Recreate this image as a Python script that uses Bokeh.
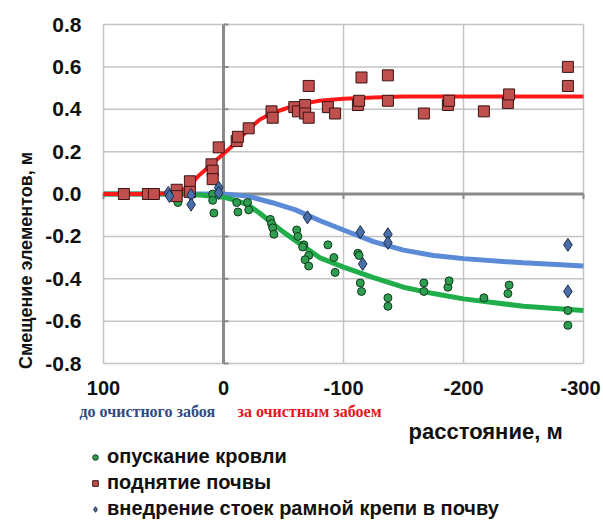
import math
from bokeh.plotting import figure
from bokeh.models import Range1d, Label, Legend, LegendItem
from bokeh.core.properties import value
from bokeh.embed import file_html
from bokeh.resources import INLINE

# ---------------- data ----------------
x_ticks = [100, 0, -100, -200, -300]
y_ticks = [-0.8, -0.6, -0.4, -0.2, 0.0, 0.2, 0.4, 0.6, 0.8]
x_tick_labels = ["100", "0", "-100", "-200", "-300"]
y_tick_labels = ["-0.8", "-0.6", "-0.4", "-0.2", "0.0", "0.2", "0.4", "0.6", "0.8"]

# поднятие почвы (red squares)
floor_x = [83, 63, 58, 39, 39, 28, 28, 10, 9, 9, 4, -11, -12, -21, -40, -41, -59, -62,
           -71, -68, -68, -71, -87, -93, -115, -112, -113, -137, -137, -167, -187, -188,
           -217, -237, -238, -287, -287]
floor_y = [0.00, 0.00, 0.00, 0.02, -0.01, 0.06, 0.01, 0.14, 0.11, 0.07, 0.22, 0.25, 0.27,
           0.31, 0.39, 0.36, 0.41, 0.39, 0.51, 0.42, 0.38, 0.36, 0.41, 0.38, 0.55, 0.42,
           0.44, 0.56, 0.44, 0.38, 0.42, 0.44, 0.39, 0.43, 0.47, 0.60, 0.51]

# опускание кровли (green circles)
roof_x = [38, 9, 9, 8, -11, -12, -20, -21, -39, -40, -41, -42, -61, -62, -67, -66, -71, -68,
          -71, -87, -92, -93, -112, -113, -114, -115, -137, -137, -167, -167, -187, -188,
          -217, -237, -238, -287, -287]
roof_y = [-0.04, -0.00, -0.03, -0.09, -0.04, -0.085, -0.04, -0.075, -0.12, -0.14, -0.16,
          -0.19, -0.17, -0.20, -0.24, -0.25, -0.29, -0.31, -0.34, -0.24, -0.30, -0.37,
          -0.28, -0.29, -0.42, -0.46, -0.49, -0.53, -0.42, -0.46, -0.44, -0.41, -0.49,
          -0.47, -0.43, -0.55, -0.62]

# внедрение стоек рамной крепи в почву (blue diamonds)
prop_x = [46, 45, 27, 27, 4, 4, -70, -114, -116, -137, -137, -287, -287]
prop_y = [0.005, -0.01, -0.005, -0.05, 0.03, 0.005, -0.11, -0.18, -0.33, -0.19, -0.23,
          -0.24, -0.46]

# trend curves
red_cx = [100, 60, 40, 30, 20, 10, 0, -10, -20, -30, -40, -50, -60, -70, -80, -100,
          -125, -150, -200, -300]
red_cy = [0.0, 0.0, 0.005, 0.03, 0.09, 0.14, 0.19, 0.24, 0.30, 0.35, 0.38, 0.40, 0.42,
          0.43, 0.44, 0.45, 0.455, 0.46, 0.46, 0.46]

green_cx = [100, 40, 20, 0, -10, -20, -30, -40, -50, -60, -70, -80, -100, -125, -150,
            -175, -200, -250, -300]
green_cy = [0.0, 0.0, -0.005, -0.015, -0.03, -0.05, -0.09, -0.135, -0.18, -0.22, -0.26,
            -0.30, -0.345, -0.395, -0.44, -0.47, -0.495, -0.53, -0.55]

blue_cx = [100, 0, -20, -40, -60, -80, -100, -125, -150, -175, -200, -250, -300]
blue_cy = [0.0, 0.0, -0.01, -0.04, -0.075, -0.125, -0.17, -0.225, -0.265, -0.29, -0.305,
           -0.325, -0.34]

legend_labels = ["опускание кровли", "поднятие почвы", "внедрение стоек рамной крепи в почву"]
y_title = "Смещение элементов, м"
x_title = "расстояние, м"
before_face = "до очистного забоя"
behind_face = "за очистным забоем"

# ---------------- layout (pixels inside the figure) ----------------
W, H = 603, 520
PL, PR, PT, PB = 103, 583, 24, 363         # plot area edges in figure pixels
X0, X1 = x_ticks[0], x_ticks[-1]
Y0, Y1 = y_ticks[0], y_ticks[-1]
sx = (PR - PL) / (X0 - X1)                 # px per unit (x reversed)
sy = (PB - PT) / (Y1 - Y0)
x_label_shift = [0, 0, 0, 0, -3]           # keep the last tick label inside the canvas


def px2x(px):
    return X0 - (px - PL) / sx


def py2y(py):
    return Y1 - (py - PT) / sy


FONT = "Liberation Sans"
SERIF = "Liberation Serif"

p = figure(width=W, height=H, output_backend="svg", toolbar_location=None,
           x_range=Range1d(px2x(0), px2x(W)), y_range=Range1d(py2y(H), py2y(0)),
           x_axis_type=None, y_axis_type=None, min_border=0)
p.grid.visible = False
p.outline_line_color = None
p.background_fill_color = "white"
p.border_fill_color = "white"

GRID = "#c4c4c4"
AXIS = "#8a8a8a"

# grid (also forms the frame border)
p.segment(x0=x_ticks, y0=[Y0] * len(x_ticks), x1=x_ticks, y1=[Y1] * len(x_ticks),
          line_color=GRID, line_width=1.5)
p.segment(x0=[X0] * len(y_ticks), y0=y_ticks, x1=[X1] * len(y_ticks), y1=y_ticks,
          line_color=GRID, line_width=1.5)

# zero axes with their tick marks
p.segment(x0=[X0], y0=[0], x1=[X1], y1=[0], line_color=AXIS, line_width=3)
p.segment(x0=[0], y0=[Y0], x1=[0], y1=[Y1], line_color=AXIS, line_width=3)
p.ray(x=x_ticks, y=[0] * len(x_ticks), length=5, length_units="screen",
      angle=-math.pi / 2, line_color=AXIS, line_width=2)
p.ray(x=[0] * len(y_ticks), y=y_ticks, length=5, length_units="screen",
      angle=0, line_color=AXIS, line_width=2)

# tick labels
p.text(x=x_ticks, y=[Y0] * len(x_ticks), text=x_tick_labels, y_offset=17,
       x_offset=x_label_shift,
       text_align="center", text_baseline="top", text_font=value(FONT),
       text_font_style="bold", text_font_size="20px", text_color="#111111")
p.text(x=[X0] * len(y_ticks), y=y_ticks, text=y_tick_labels, x_offset=-22,
       text_align="right", text_baseline="middle", text_font=value(FONT),
       text_font_style="bold", text_font_size="21px", text_color="#111111")

# curves
p.line(blue_cx, blue_cy, line_color="#5b8bd6", line_width=5)
p.line(green_cx, green_cy, line_color="#1fae4a", line_width=5)
p.line(red_cx, red_cy, line_color="#ff1a1a", line_width=4)

# points
r_roof = p.scatter(roof_x, roof_y, marker="circle", size=8, fill_color="#2f9e50",
                   line_color="#0f3a1c", line_width=1)
r_floor = p.scatter(floor_x, floor_y, marker="square", size=11, fill_color="#c0504d",
                    line_color="#3a1414", line_width=1)
r_prop = p.scatter(prop_x, prop_y, marker="diamond", size=13, fill_color="#4a6fa8",
                   line_color="#1a2a48", line_width=1)

# titles and notes
p.add_layout(Label(x=px2x(25), y=py2y(260), text=y_title, angle=math.pi / 2,
                   text_align="center", text_baseline="middle", text_font=FONT,
                   text_font_style="bold", text_font_size="18px", text_color="#111111"))
p.add_layout(Label(x=px2x(79), y=py2y(411), text=before_face, text_align="left",
                   text_baseline="middle", text_font=SERIF,
                   text_font_style="bold", text_font_size="16px", text_color="#2f4a88"))
p.add_layout(Label(x=px2x(237), y=py2y(411), text=behind_face, text_align="left",
                   text_baseline="middle", text_font=SERIF,
                   text_font_style="bold", text_font_size="16px", text_color="#e8141c"))
p.add_layout(Label(x=px2x(408), y=py2y(431), text=x_title, text_align="left",
                   text_baseline="middle", text_font=FONT, text_font_style="bold",
                   text_font_size="22px", text_color="#111111"))

legend = Legend(items=[LegendItem(label=legend_labels[0], renderers=[r_roof]),
                       LegendItem(label=legend_labels[1], renderers=[r_floor]),
                       LegendItem(label=legend_labels[2], renderers=[r_prop])],
                location=(88, 0), orientation="vertical",
                border_line_color=None, background_fill_alpha=0,
                padding=0, margin=0, spacing=3, glyph_width=14, glyph_height=22,
                label_height=22, label_standoff=5,
                label_text_font=FONT, label_text_font_style="bold",
                label_text_font_size="20px", label_text_color="#111111")
p.add_layout(legend, "center")

open("out.html", "w").write(file_html(p, INLINE))
